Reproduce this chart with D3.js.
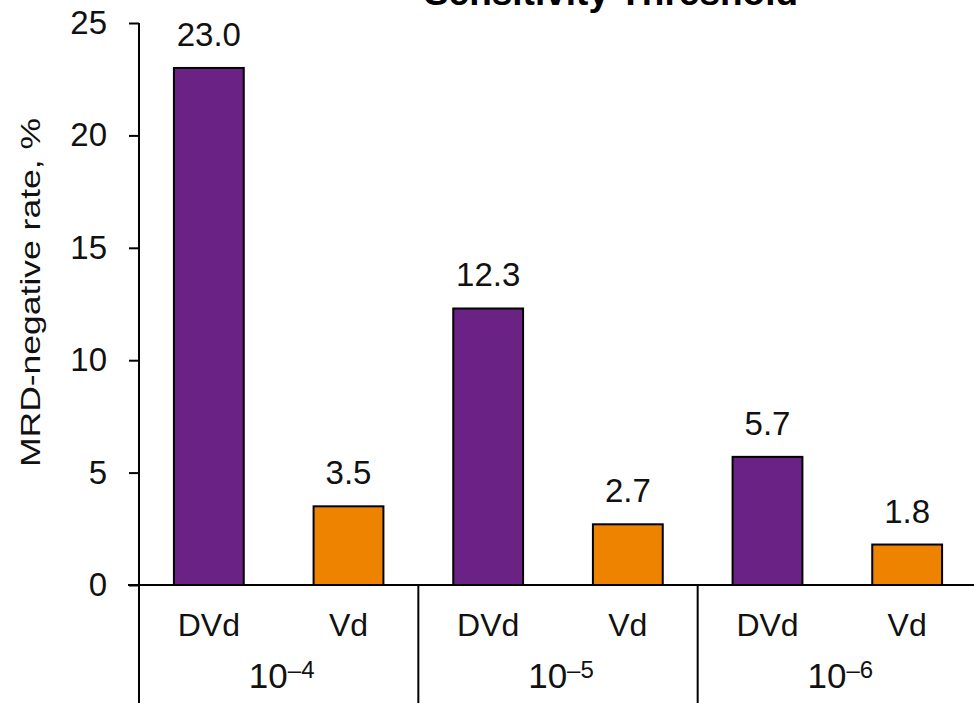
<!DOCTYPE html>
<html>
<head>
<meta charset="utf-8">
<script src="https://cdn.jsdelivr.net/npm/d3@7"></script>
<style>
  html, body { margin: 0; padding: 0; background: #fff; }
  svg { display: block; font-family: "Liberation Sans", Arial, sans-serif; }
</style>
</head>
<body>
<svg id="chart" width="974" height="703"></svg>
<script>
// MRD-negative rates by sensitivity threshold, DVd vs Vd
const exponents = ["\u20134", "\u20135", "\u20136"];
const arms = ["DVd", "Vd"];
const dvdValues = [23.0, 12.3, 5.7];
const vdValues = [3.5, 2.7, 1.8];
const yTicks = [0, 5, 10, 15, 20, 25];
const armColors = ["#6a2384", "#ee8300"];

const rows = exponents.flatMap((e, i) => [
  { group: e, arm: arms[0], value: dvdValues[i] },
  { group: e, arm: arms[1], value: vdValues[i] }
]);

const svg = d3.select("#chart");
const x0 = 139, x1 = 977, yTop = 23, yBase = 585, H = 703;

const y = d3.scaleLinear().domain([0, 25]).range([yBase, yTop]);
const xGroup = d3.scaleBand().domain(exponents).range([x0, x1]).padding(0);
const xArm = d3.scaleBand().domain(arms).range([0, xGroup.bandwidth()])
  .paddingInner(0.5).paddingOuter(0.25);
const color = d3.scaleOrdinal().domain(arms).range(armColors);

// Title (runs off the top edge)
svg.append("text")
  .attr("x", 611).attr("y", 5)
  .attr("text-anchor", "middle")
  .attr("font-size", 37).attr("font-weight", "bold")
  .text("Sensitivity Threshold");

// Y axis
const yAxis = d3.axisLeft(y).tickValues(yTicks).tickSize(10).tickPadding(22)
  .tickFormat(d3.format("d"));
const gy = svg.append("g").attr("transform", `translate(${x0},0)`).call(yAxis);
gy.select(".domain").remove();
gy.selectAll(".tick line").attr("stroke", "#000").attr("stroke-width", 2);
gy.selectAll(".tick text").attr("font-size", 33).attr("fill", "#111")
  .attr("font-family", "Liberation Sans, Arial, sans-serif");
svg.append("line").attr("x1", x0).attr("x2", x0).attr("y1", y(25)).attr("y2", H)
  .attr("stroke", "#000").attr("stroke-width", 2);

// Y axis title
svg.append("text")
  .attr("transform", `translate(40,${(118 + 467) / 2}) rotate(-90)`)
  .attr("text-anchor", "middle")
  .attr("font-size", 28)
  .attr("textLength", 349).attr("lengthAdjust", "spacingAndGlyphs")
  .attr("fill", "#111")
  .text("MRD-negative rate, %");

// Bars
svg.append("g").selectAll("rect").data(rows).join("rect")
  .attr("x", d => xGroup(d.group) + xArm(d.arm))
  .attr("y", d => y(d.value))
  .attr("width", xArm.bandwidth())
  .attr("height", d => y(0) - y(d.value))
  .attr("fill", d => color(d.arm))
  .attr("stroke", "#000").attr("stroke-width", 2);

// Value labels
svg.append("g").selectAll("text").data(rows).join("text")
  .attr("x", d => xGroup(d.group) + xArm(d.arm) + xArm.bandwidth() / 2)
  .attr("y", d => y(d.value) - 22)
  .attr("text-anchor", "middle")
  .attr("font-size", 33).attr("fill", "#111")
  .text(d => d.value.toFixed(1));

// Baseline and group separators
svg.append("line").attr("x1", x0 - 11).attr("x2", 974).attr("y1", yBase).attr("y2", yBase)
  .attr("stroke", "#000").attr("stroke-width", 2);
svg.append("g").selectAll("line").data(exponents.slice(1)).join("line")
  .attr("x1", d => xGroup(d)).attr("x2", d => xGroup(d))
  .attr("y1", yBase).attr("y2", H)
  .attr("stroke", "#000").attr("stroke-width", 2);

// Arm labels
svg.append("g").selectAll("text").data(rows).join("text")
  .attr("x", d => xGroup(d.group) + xArm(d.arm) + xArm.bandwidth() / 2)
  .attr("y", 636)
  .attr("text-anchor", "middle")
  .attr("font-size", 32).attr("fill", "#111")
  .text(d => d.arm);

// Threshold labels: 10 with superscript exponent
const gl = svg.append("g").selectAll("text").data(exponents).join("text")
  .attr("x", d => xGroup(d) + xGroup.bandwidth() / 2 + 3)
  .attr("y", 688)
  .attr("text-anchor", "middle")
  .attr("fill", "#111");
gl.append("tspan").attr("font-size", 35).text("10");
gl.append("tspan").attr("font-size", 24).attr("dy", -10).text(d => d);
</script>
</body>
</html>
